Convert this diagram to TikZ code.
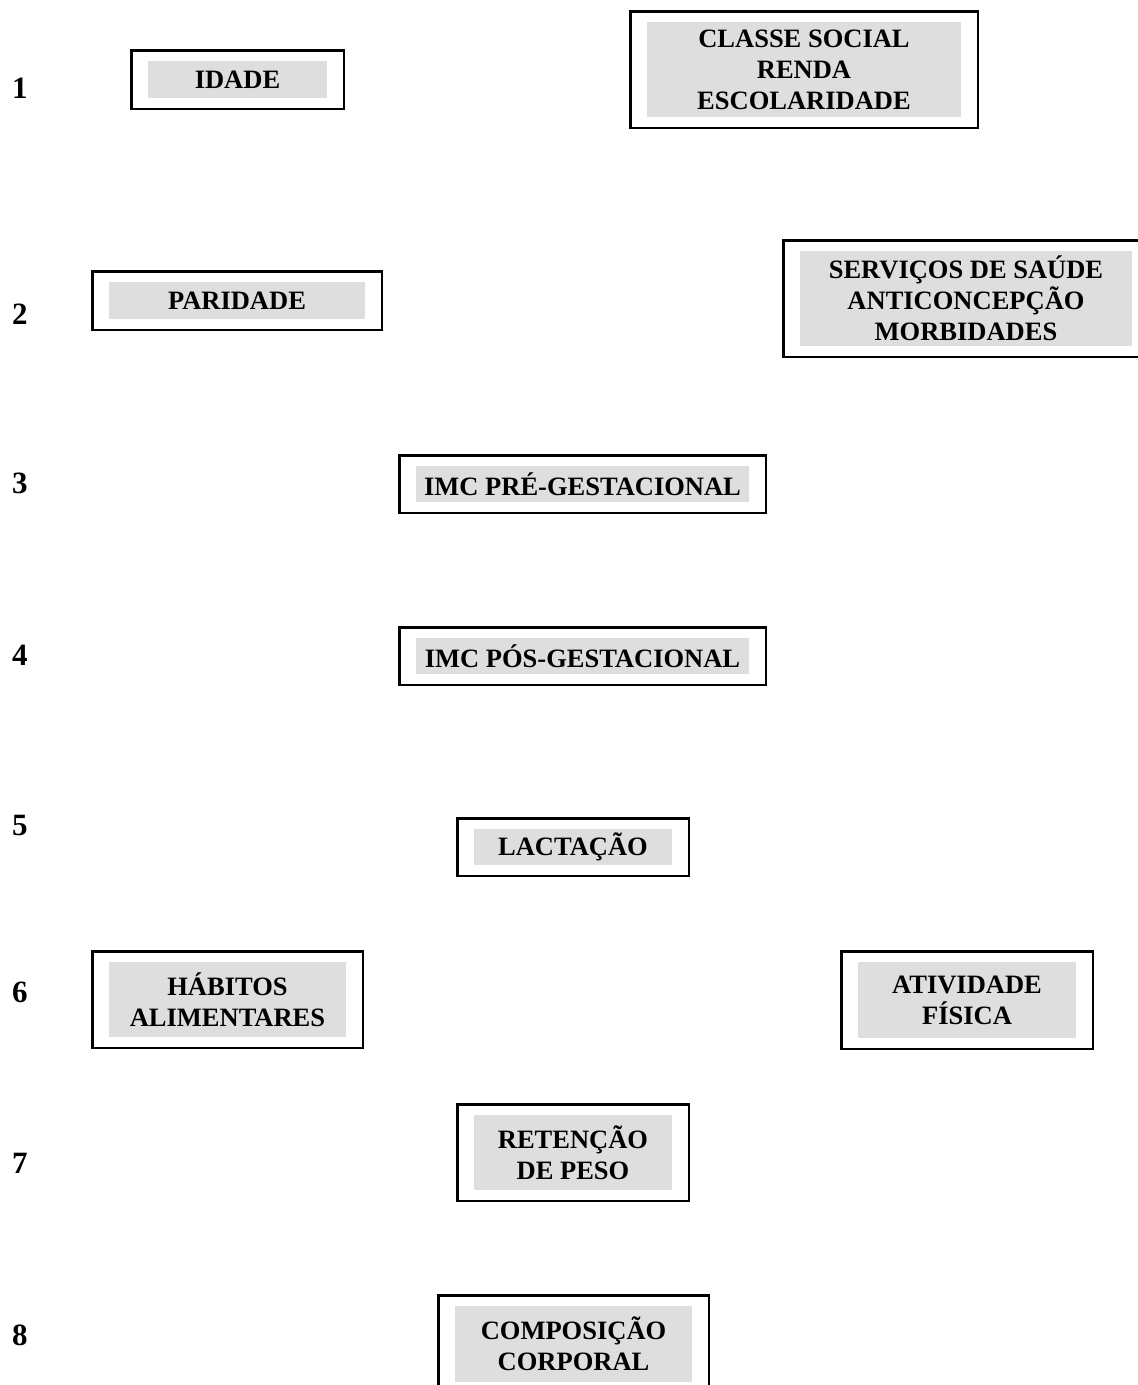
\documentclass[tikz,border=0pt]{standalone}
\usepackage{fontspec}
\setmainfont{Liberation Serif}
\usepackage{xcolor}
\usetikzlibrary{fit}
\definecolor{cinza}{RGB}{222,222,222}

\begin{document}
\begin{tikzpicture}[x=1pt,y=-1pt,
  font=\fontsize{26.5}{31}\selectfont\bfseries,
  miolo/.style={fill=cinza, inner sep=0pt, align=center},
  moldura/.style={draw, line width=2.4pt, inner xsep=16.5pt, inner ysep=10.5pt},
  nivel/.style={anchor=base west, inner sep=0pt, font=\fontsize{31}{31}\selectfont\bfseries}]

\useasboundingbox (0,0) rectangle (1138,1385);
\clip (0,0) rectangle (1138,1385);

% numeros dos niveis
\foreach \n/\y in {1/98, 2/324, 3/493, 4/665, 5/835, 6/1002, 7/1173, 8/1345}
  \node[nivel] (n\n) at (12,\y) {\n};

% nivel 1
\node[miolo, minimum width=179pt, minimum height=37pt] (idade) at (237.5,79.5) {IDADE};
\node[moldura, fit=(idade)] (fidade) {};

\node[miolo, minimum width=314pt, minimum height=95pt] (classe) at (804,69.5)
  {CLASSE SOCIAL\\RENDA\\ESCOLARIDADE};
\node[moldura, fit=(classe)] (fclasse) {};

% nivel 2
\node[miolo, minimum width=256pt, minimum height=37pt] (paridade) at (237,300.5) {PARIDADE};
\node[moldura, fit=(paridade)] (fparidade) {};

\node[miolo, minimum width=332pt, minimum height=95pt] (servicos) at (966,298.5)
  {SERVIÇOS DE SAÚDE\\ANTICONCEPÇÃO\\MORBIDADES};
\node[moldura, fit=(servicos)] (fservicos) {};

% niveis 3 a 5
\node[miolo, minimum width=333pt, minimum height=36pt] (imcpre) at (582.5,484) {IMC PRÉ-GESTACIONAL};
\node[moldura, fit=(imcpre)] (fimcpre) {};

\node[miolo, minimum width=333pt, minimum height=36pt] (imcpos) at (582.5,656) {IMC PÓS-GESTACIONAL};
\node[moldura, fit=(imcpos)] (fimcpos) {};

\node[miolo, minimum width=198pt, minimum height=36pt] (lactacao) at (573,847) {LACTAÇÃO};
\node[moldura, fit=(lactacao)] (flactacao) {};

% nivel 6
\node[miolo, minimum width=237pt, minimum height=75pt] (habitos) at (227.5,999.5)
  {HÁBITOS\\ALIMENTARES};
\node[moldura, fit=(habitos)] (fhabitos) {};

\node[miolo, minimum width=218pt, minimum height=76pt] (atividade) at (967,1000)
  {ATIVIDADE\\FÍSICA};
\node[moldura, fit=(atividade)] (fatividade) {};

% niveis 7 e 8
\node[miolo, minimum width=198pt, minimum height=75pt] (retencao) at (573,1152.5)
  {RETENÇÃO\\DE PESO};
\node[moldura, fit=(retencao)] (fretencao) {};

\node[miolo, minimum width=237pt, minimum height=76pt] (composicao) at (573.5,1344)
  {COMPOSIÇÃO\\CORPORAL};
\node[moldura, fit=(composicao)] (fcomposicao) {};

\end{tikzpicture}
\end{document}
